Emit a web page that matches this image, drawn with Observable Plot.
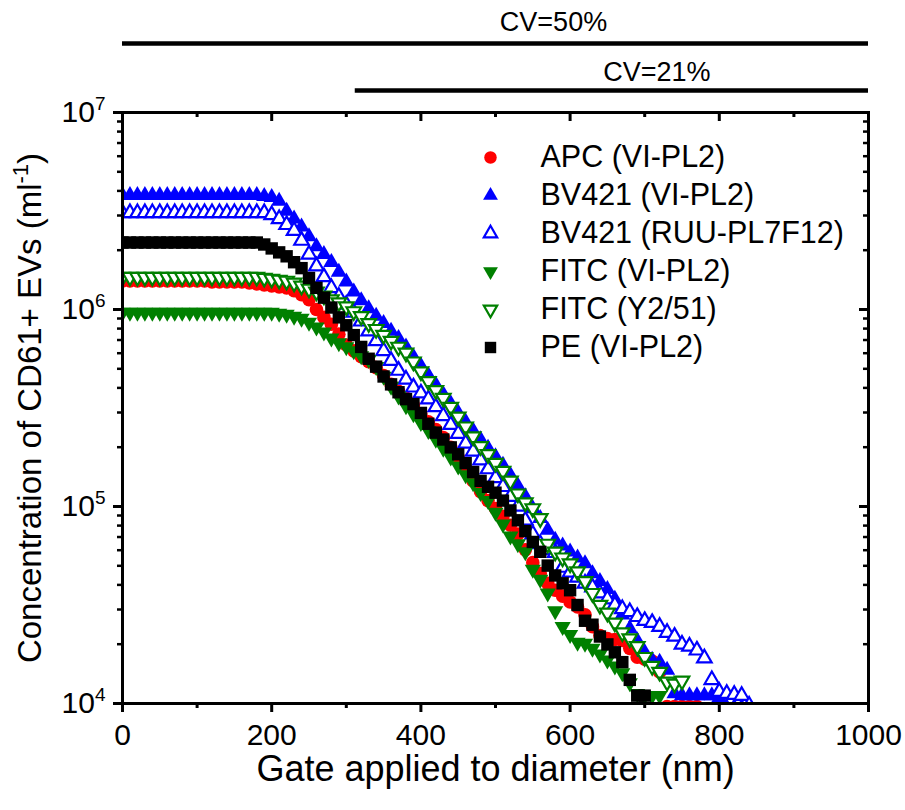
<!DOCTYPE html>
<html><head><meta charset="utf-8">
<script src="https://cdn.jsdelivr.net/npm/d3@7"></script>
<script src="https://cdn.jsdelivr.net/npm/@observablehq/plot@0.6"></script>
<style>body{margin:0;background:#fff;}</style>
</head><body><div id="chart"></div>
<script>
// Gate applied to diameter (nm)
const gateNm = [0,10,20,30,40,50,60,70,80,90,100,110,120,130,140,150,160,170,180,190,200,210,220,230,240,250,260,270,280,290,300,310,320,330,340,350,360,370,380,390,400,410,420,430,440,450,460,470,480,490,500,510,520,530,540,550,560,570,580,590,600,610,620,630,640,650,660,670,680,690,700,710,720,730,740,750,760,770,780,790,800,810,820,830,840];

// log10 of concentration (ml^-1), one value per gate step starting at 0 nm
const apcViLog = [6.145,6.145,6.145,6.145,6.145,6.145,6.145,6.145,6.145,6.145,6.145,6.145,6.14,6.14,6.14,6.14,6.14,6.135,6.13,6.125,6.12,6.115,6.11,6.095,6.075,6.05,6.00,5.96,5.925,5.875,5.82,5.79,5.76,5.735,5.705,5.665,5.62,5.585,5.55,5.515,5.47,5.43,5.39,5.35,5.30,5.25,5.19,5.13,5.075,5.03,4.99,4.95,4.905,4.86,4.78,4.715,4.66,4.61,4.575,4.545,4.515,4.49,4.45,4.39,4.345,4.33,4.325,4.32,4.28,4.235,4.225,4.215,4.16,3.985,3.985,3.985,3.985,3.985];
const bv421ViLog = [6.58,6.58,6.58,6.58,6.58,6.58,6.58,6.58,6.58,6.58,6.58,6.58,6.58,6.58,6.58,6.58,6.58,6.58,6.58,6.575,6.57,6.55,6.50,6.46,6.42,6.37,6.32,6.28,6.24,6.19,6.14,6.09,6.045,6.005,5.967,5.93,5.89,5.854,5.81,5.76,5.714,5.666,5.618,5.57,5.523,5.475,5.43,5.385,5.34,5.297,5.253,5.21,5.16,5.105,5.05,4.99,4.94,4.88,4.83,4.80,4.77,4.74,4.71,4.66,4.62,4.58,4.53,4.45,4.38,4.32,4.26,4.22,4.21,4.17,4.05,4.04,4.04,4.04,4.04,4.04,4.03,3.98,3.98,3.98,3.98];
const bv421RuuLog = [6.49,6.49,6.49,6.49,6.49,6.49,6.49,6.49,6.49,6.49,6.49,6.49,6.49,6.49,6.49,6.49,6.49,6.49,6.49,6.49,6.48,6.46,6.43,6.40,6.35,6.28,6.22,6.165,6.11,6.065,6.025,5.985,5.94,5.89,5.84,5.79,5.74,5.69,5.645,5.605,5.575,5.545,5.505,5.46,5.415,5.37,5.32,5.28,5.235,5.19,5.145,5.10,5.05,5.00,4.93,4.86,4.81,4.78,4.765,4.69,4.665,4.64,4.61,4.59,4.56,4.53,4.50,4.48,4.465,4.44,4.42,4.41,4.39,4.36,4.34,4.30,4.29,4.27,4.23,4.12,4.06,4.05,4.045,4.04,3.99];
const fitcViLog = [5.985,5.985,5.985,5.985,5.985,5.985,5.985,5.985,5.985,5.985,5.985,5.985,5.985,5.985,5.985,5.985,5.985,5.985,5.985,5.985,5.985,5.98,5.975,5.965,5.955,5.935,5.91,5.885,5.855,5.83,5.81,5.79,5.765,5.745,5.71,5.66,5.61,5.56,5.51,5.47,5.425,5.385,5.34,5.295,5.25,5.205,5.16,5.12,5.07,5.03,4.97,4.91,4.85,4.81,4.77,4.68,4.63,4.56,4.47,4.39,4.35,4.31,4.305,4.28,4.25,4.22,4.19,4.155,4.105,4.05,4.04,4.04,4.04];
const fitcY2Log = [6.165,6.165,6.165,6.165,6.165,6.165,6.165,6.165,6.165,6.165,6.165,6.165,6.165,6.165,6.165,6.165,6.165,6.165,6.165,6.16,6.155,6.15,6.145,6.135,6.12,6.105,6.09,6.07,6.05,6.035,6.015,5.99,5.965,5.93,5.90,5.87,5.84,5.81,5.78,5.735,5.685,5.635,5.59,5.55,5.505,5.455,5.405,5.355,5.305,5.265,5.22,5.18,5.13,5.065,5.02,4.99,4.94,4.81,4.77,4.74,4.71,4.67,4.62,4.56,4.50,4.46,4.41,4.36,4.33,4.29,4.235,4.19,4.16,4.11,4.10,4.115];
const peViLog = [6.34,6.34,6.34,6.34,6.34,6.34,6.34,6.34,6.34,6.34,6.34,6.34,6.34,6.34,6.34,6.34,6.34,6.34,6.34,6.33,6.31,6.29,6.27,6.24,6.21,6.16,6.11,6.06,6.01,5.96,5.92,5.87,5.81,5.75,5.71,5.66,5.62,5.58,5.545,5.52,5.475,5.42,5.375,5.34,5.30,5.265,5.22,5.175,5.13,5.10,5.07,5.03,4.98,4.93,4.875,4.82,4.77,4.70,4.65,4.61,4.575,4.50,4.42,4.40,4.34,4.30,4.26,4.21,4.12,4.04,4.04];

const seriesNames = ["APC (VI-PL2)", "BV421 (VI-PL2)", "BV421 (RUU-PL7F12)", "FITC (VI-PL2)", "FITC (Y2/51)", "PE (VI-PL2)"];
const seriesLogs = [apcViLog, bv421ViLog, bv421RuuLog, fitcViLog, fitcY2Log, peViLog];
const seriesColors = ["#ff0000", "#0000ff", "#0000ff", "#008000", "#008000", "#000000"];
const seriesOpen = [false, false, true, false, true, false];

// Axis ticks
const xMajor = [0, 200, 400, 600, 800, 1000];
const xMinor = [100, 300, 500, 700, 900];
const yMajor = [1e4, 1e5, 1e6, 1e7];
const yMinor = [2e4,3e4,4e4,5e4,6e4,7e4,8e4,9e4,2e5,3e5,4e5,5e5,6e5,7e5,8e5,9e5,2e6,3e6,4e6,5e6,6e6,7e6,8e6,9e6];

// CV gate ranges shown above the plot
const cvLabels = ["CV=50%", "CV=21%"];
const cvFromNm = [0, 312];
const cvToNm = [1000, 1000];

const triangleDown = {
  draw(context, size) {
    const y = Math.sqrt(size / (Math.sqrt(3) * 3));
    context.moveTo(0, y * 2);
    context.lineTo(-Math.sqrt(3) * y, -y);
    context.lineTo(Math.sqrt(3) * y, -y);
    context.closePath();
  }
};
const seriesSymbols = ["circle", "triangle", "triangle", triangleDown, triangleDown, "square"];
const seriesR = [6.8, 6.0, 5.4, 6.0, 5.4, 7.0];

const W = 905, H = 810, ML = 122, MR = 37, MT = 112, MB = 107;
const PW = W - ML - MR, PH = H - MT - MB;
const FONT = "'Liberation Sans', Arial, Helvetica, sans-serif";

const series = seriesNames.map((name, i) => ({
  name, color: seriesColors[i], open: seriesOpen[i], symbol: seriesSymbols[i], r: seriesR[i],
  rows: seriesLogs[i].map((v, j) => ({nm: gateNm[j], conc: Math.pow(10, v)}))
}));
const cvRows = cvLabels.map((label, i) => ({label, from: cvFromNm[i], to: cvToNm[i], mid: (cvFromNm[i] + cvToNm[i]) / 2}));

function dotStyle(s) {
  return s.open
    ? {fill: "white", stroke: s.color, strokeWidth: 2.2}
    : {fill: s.color, stroke: "none"};
}

const marks = [];
// data
series.forEach(s => {
  marks.push(Plot.dot(s.rows, {x: "nm", y: "conc", symbol: s.symbol, r: s.r, clip: true, ...dotStyle(s)}));
});
// legend
series.forEach((s, i) => {
  marks.push(Plot.dot([s], {frameAnchor: "top-left", dx: 368, dy: 45 + 38 * i, symbol: s.symbol, r: s.r * 0.92, ...dotStyle(s)}));
  marks.push(Plot.text([s], {frameAnchor: "top-left", dx: 418, dy: 45 + 38 * i, text: "name", textAnchor: "start", lineAnchor: "middle", fontSize: 30.5, fill: "black"}));
});
// frame and ticks
marks.push(Plot.frame({stroke: "black", strokeWidth: 3}));
marks.push(Plot.axisX({ticks: xMajor, tickSize: 9, tickPadding: 11, strokeWidth: 3, fontSize: 30, tickFormat: d => String(d), label: null}));
marks.push(Plot.axisX({ticks: xMinor, tickSize: 5, strokeWidth: 3, fill: "none", label: null}));
marks.push(Plot.ruleX(xMajor, {x: d => d, insetBottom: PH - 9, strokeWidth: 3}));
marks.push(Plot.ruleX(xMinor, {x: d => d, insetBottom: PH - 5, strokeWidth: 3}));
marks.push(Plot.axisY({ticks: yMajor, tickSize: 9, tickPadding: 8, strokeWidth: 3, fontSize: 30, tickFormat: d => "10^" + Math.round(Math.log10(d)), label: null}));
marks.push(Plot.axisY({ticks: yMinor, tickSize: 5, strokeWidth: 2.5, fill: "none", label: null}));
marks.push(Plot.ruleY(yMajor, {y: d => d, insetLeft: PW - 9, strokeWidth: 3}));
marks.push(Plot.ruleY(yMinor, {y: d => d, insetLeft: PW - 5, strokeWidth: 2.5}));
// CV annotations
marks.push(Plot.ruleY([cvRows[0]], {x1: "from", x2: "to", y: () => 1e7, dy: -69, strokeWidth: 4.5}));
marks.push(Plot.ruleY([cvRows[1]], {x1: "from", x2: "to", y: () => 1e7, dy: -22, strokeWidth: 4.5}));
marks.push(Plot.text([cvRows[0]], {x: "mid", y: () => 1e7, dy: -90, dx: 58, text: "label", fontSize: 27, fill: "black"}));
marks.push(Plot.text([cvRows[1]], {x: "mid", y: () => 1e7, dy: -40, dx: 45, text: "label", fontSize: 27, fill: "black"}));
// axis titles
marks.push(Plot.text(["Gate applied to diameter (nm)"], {frameAnchor: "bottom", dy: 77, text: d => d, textAnchor: "middle", fontSize: 36, fill: "black"}));
marks.push(Plot.text(["Concentration of CD61+ EVs (ml-1)"], {frameAnchor: "left", dx: -92, rotate: -90, text: d => d, textAnchor: "middle", lineAnchor: "middle", fontSize: 33, fill: "black"}));

const svg = Plot.plot({
  width: W, height: H,
  marginLeft: ML, marginRight: MR, marginTop: MT, marginBottom: MB,
  style: {fontFamily: FONT, background: "white", color: "black", overflow: "visible"},
  x: {domain: [0, 1000], label: null},
  y: {type: "log", domain: [1e4, 1e7], label: null},
  marks
});
document.getElementById("chart").appendChild(svg);

// superscripts for log tick labels
d3.select(svg).selectAll('g[aria-label="y-axis tick label"] text').each(function() {
  const t = d3.select(this);
  const parts = t.text().split("^");
  if (parts.length === 2) {
    t.text("");
    t.append("tspan").text(parts[0]);
    t.append("tspan").attr("font-size", 19).attr("dy", "-0.65em").text(parts[1]);
  }
});
// superscript -1 in y title
d3.select(svg).selectAll("text").each(function() {
  const t = d3.select(this);
  if (t.text() === "Concentration of CD61+ EVs (ml-1)") {
    t.text("");
    t.attr("text-anchor", "middle");
    t.append("tspan").text("Concentration of CD61+ EVs (ml");
    t.append("tspan").attr("font-size", 22).attr("dy", "-0.6em").text("-1");
    t.append("tspan").attr("dy", "0.39em").text(")");
  }
});
</script>
</body></html>
